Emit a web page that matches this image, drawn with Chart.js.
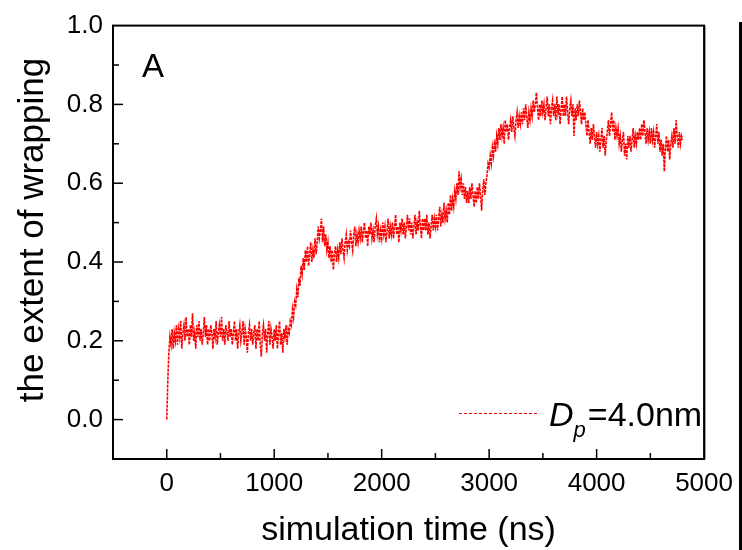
<!DOCTYPE html>
<html>
<head>
<meta charset="utf-8">
<script src="https://cdn.jsdelivr.net/npm/chart.js@4.4.1/dist/chart.umd.min.js"></script>
<style>
  html, body { margin: 0; padding: 0; background: #fff; }
  #wrapChart { display: block; }
</style>
</head>
<body>
<canvas id="wrapChart" width="742" height="550"></canvas>
<script>
// samples every 10 ns (one row = 100 ns)
const TIME_STEP = 10;
const wrapping = [
  0.00, 0.10, 0.17, 0.21, 0.19, 0.23, 0.18, 0.22, 0.20, 0.24,
  0.19, 0.23, 0.21, 0.25, 0.18, 0.22, 0.24, 0.20, 0.26, 0.21,
  0.23, 0.19, 0.24, 0.21, 0.27, 0.20, 0.22, 0.18, 0.24, 0.21,
  0.25, 0.20, 0.23, 0.19, 0.22, 0.26, 0.21, 0.24, 0.19, 0.23,
  0.20, 0.24, 0.22, 0.18, 0.23, 0.21, 0.25, 0.19, 0.22, 0.24,
  0.21, 0.26, 0.20, 0.23, 0.19, 0.24, 0.22, 0.20, 0.25, 0.21,
  0.23, 0.19, 0.22, 0.25, 0.20, 0.23, 0.18, 0.22, 0.24, 0.20,
  0.22, 0.25, 0.19, 0.23, 0.21, 0.17, 0.22, 0.24, 0.20, 0.23,
  0.19, 0.22, 0.24, 0.18, 0.23, 0.20, 0.25, 0.19, 0.16, 0.22,
  0.24, 0.20, 0.23, 0.17, 0.22, 0.25, 0.19, 0.23, 0.21, 0.18,
  0.23, 0.20, 0.24, 0.18, 0.22, 0.25, 0.19, 0.22, 0.17, 0.23,
  0.21, 0.24, 0.19, 0.23, 0.22, 0.25, 0.24, 0.28, 0.26, 0.30,
  0.29, 0.33, 0.31, 0.36, 0.34, 0.39, 0.37, 0.41, 0.38, 0.43,
  0.40, 0.44, 0.39, 0.42, 0.45, 0.40, 0.43, 0.41, 0.46, 0.42,
  0.45, 0.49, 0.46, 0.48, 0.51, 0.45, 0.49, 0.44, 0.47, 0.43,
  0.45, 0.41, 0.44, 0.40, 0.43, 0.38, 0.42, 0.44, 0.40, 0.43,
  0.41, 0.45, 0.42, 0.46, 0.43, 0.41, 0.45, 0.47, 0.43, 0.45,
  0.44, 0.48, 0.45, 0.43, 0.47, 0.49, 0.44, 0.47, 0.45, 0.48,
  0.46, 0.49, 0.45, 0.48, 0.50, 0.46, 0.48, 0.44, 0.49, 0.47,
  0.50, 0.46, 0.48, 0.45, 0.49, 0.51, 0.47, 0.49, 0.45, 0.48,
  0.46, 0.50, 0.47, 0.49, 0.45, 0.48, 0.51, 0.46, 0.49, 0.47,
  0.50, 0.46, 0.49, 0.52, 0.47, 0.49, 0.45, 0.50, 0.48, 0.51,
  0.47, 0.50, 0.46, 0.49, 0.52, 0.48, 0.51, 0.47, 0.50, 0.46,
  0.49, 0.52, 0.47, 0.50, 0.48, 0.53, 0.49, 0.46, 0.51, 0.48,
  0.51, 0.48, 0.52, 0.47, 0.50, 0.46, 0.49, 0.52, 0.48, 0.51,
  0.49, 0.52, 0.48, 0.51, 0.54, 0.49, 0.52, 0.50, 0.55, 0.51,
  0.53, 0.50, 0.55, 0.52, 0.57, 0.53, 0.56, 0.54, 0.58, 0.56,
  0.60, 0.57, 0.63, 0.59, 0.61, 0.57, 0.60, 0.56, 0.59, 0.55,
  0.58, 0.55, 0.59, 0.56, 0.60, 0.57, 0.54, 0.58, 0.55, 0.59,
  0.56, 0.60, 0.57, 0.53, 0.58, 0.61, 0.57, 0.60, 0.62, 0.65,
  0.64, 0.67, 0.65, 0.69, 0.67, 0.71, 0.68, 0.72, 0.70, 0.74,
  0.71, 0.75, 0.72, 0.74, 0.70, 0.76, 0.73, 0.75, 0.71, 0.74,
  0.76, 0.73, 0.77, 0.74, 0.72, 0.76, 0.78, 0.74, 0.77, 0.75,
  0.78, 0.75, 0.79, 0.76, 0.80, 0.77, 0.74, 0.78, 0.76, 0.79,
  0.77, 0.81, 0.78, 0.80, 0.83, 0.79, 0.76, 0.80, 0.77, 0.81,
  0.78, 0.80, 0.76, 0.79, 0.82, 0.77, 0.80, 0.75, 0.79, 0.81,
  0.77, 0.80, 0.76, 0.82, 0.78, 0.80, 0.75, 0.79, 0.82, 0.77,
  0.80, 0.77, 0.82, 0.78, 0.75, 0.79, 0.81, 0.77, 0.80, 0.72,
  0.79, 0.76, 0.80, 0.77, 0.81, 0.78, 0.75, 0.79, 0.76, 0.78,
  0.75, 0.72, 0.76, 0.73, 0.70, 0.74, 0.71, 0.75, 0.72, 0.69,
  0.73, 0.70, 0.72, 0.68, 0.71, 0.74, 0.69, 0.72, 0.67, 0.71,
  0.73, 0.76, 0.72, 0.75, 0.78, 0.73, 0.76, 0.71, 0.74, 0.72,
  0.74, 0.70, 0.72, 0.68, 0.71, 0.73, 0.67, 0.70, 0.66, 0.72,
  0.69, 0.72, 0.68, 0.71, 0.74, 0.69, 0.72, 0.70, 0.73, 0.71,
  0.74, 0.71, 0.75, 0.72, 0.76, 0.73, 0.70, 0.74, 0.71, 0.73,
  0.70, 0.74, 0.71, 0.73, 0.69, 0.72, 0.75, 0.70, 0.73, 0.68,
  0.71, 0.67, 0.70, 0.63, 0.69, 0.72, 0.68, 0.71, 0.66, 0.70,
  0.72, 0.69, 0.74, 0.70, 0.76, 0.72, 0.69, 0.73, 0.70, 0.72,
  0.71
];
const times = wrapping.map((_, i) => i * TIME_STEP);

const xTickLabels = ['0', '1000', '2000', '3000', '4000', '5000'];
const yTickLabels = ['0.0', '0.2', '0.4', '0.6', '0.8', '1.0'];
const xTitle = 'simulation time (ns)';
const yTitle = 'the extent of wrapping';
const panelLabel = 'A';
const seriesName = { main: 'D', sub: 'p', rest: '=4.0nm' };

const FONT = "'Liberation Sans', Arial, sans-serif";
Chart.defaults.font.family = FONT;
Chart.defaults.color = '#000';

const line = (ctx, x1, y1, x2, y2) => {
  ctx.beginPath();
  ctx.moveTo(x1, y1);
  ctx.lineTo(x2, y2);
  ctx.stroke();
};

const decorations = {
  id: 'decorations',
  afterDraw(chart) {
    const { ctx, chartArea: a, scales: { x, y } } = chart;
    ctx.save();

    // inward ticks, long ones where there is a label
    ctx.strokeStyle = '#000';
    ctx.lineWidth = 1.5;
    x.ticks.forEach((t) => {
      const px = x.getPixelForValue(t.value);
      if (px <= a.left + 1 || px >= a.right - 1) return;
      line(ctx, px, a.bottom, px, a.bottom - (t.label ? 10 : 6));
    });
    y.ticks.forEach((t) => {
      const py = y.getPixelForValue(t.value);
      if (py <= a.top + 1 || py >= a.bottom - 1) return;
      line(ctx, a.left, py, a.left + (t.label ? 10 : 6), py);
    });

    // frame
    ctx.lineWidth = 2;
    ctx.strokeRect(a.left, a.top, a.right - a.left, a.bottom - a.top);
    ctx.strokeStyle = '#999';
    ctx.lineWidth = 1;
    line(ctx, a.right + 1.5, a.top, a.right + 1.5, a.bottom);

    // axis titles
    ctx.fillStyle = '#000';
    ctx.font = `34px ${FONT}`;
    ctx.textAlign = 'center';
    ctx.textBaseline = 'alphabetic';
    ctx.fillText(xTitle, (a.left + a.right) / 2, 540);

    ctx.save();
    ctx.translate(43, 230);
    ctx.rotate(-Math.PI / 2);
    ctx.font = `35px ${FONT}`;
    ctx.fillText(yTitle, 0, 0);
    ctx.restore();

    // panel letter
    ctx.textAlign = 'left';
    ctx.font = `33px ${FONT}`;
    ctx.fillText(panelLabel, 142, 77);

    // legend
    ctx.strokeStyle = 'red';
    ctx.lineWidth = 1;
    ctx.setLineDash([3, 2]);
    line(ctx, 459, 413.5, 537, 413.5);
    ctx.setLineDash([]);

    let lx = 549;
    ctx.font = `italic 34px ${FONT}`;
    ctx.fillText(seriesName.main, lx, 426);
    lx += ctx.measureText(seriesName.main).width;
    ctx.font = `italic 22px ${FONT}`;
    ctx.fillText(seriesName.sub, lx, 437);
    lx += ctx.measureText(seriesName.sub).width + 2;
    ctx.font = `34px ${FONT}`;
    ctx.fillText(seriesName.rest, lx, 426);

    // stray bar at the right edge of the figure
    ctx.fillStyle = '#000';
    ctx.fillRect(739, 22, 3, 528);

    ctx.restore();
  }
};

new Chart(document.getElementById('wrapChart'), {
  type: 'line',
  data: {
    labels: times,
    datasets: [{
      data: times.map((t, i) => ({ x: t, y: wrapping[i] })),
      borderColor: 'red',
      borderWidth: 1.6,
      borderDash: [3, 1],
      pointRadius: 0,
      tension: 0,
      fill: false
    }]
  },
  options: {
    responsive: false,
    animation: false,
    layout: {
      padding: { left: 0, top: 20, right: 29, bottom: 0 }
    },
    plugins: {
      legend: { display: false },
      tooltip: { enabled: false }
    },
    scales: {
      x: {
        type: 'linear',
        min: -500,
        max: 5000,
        grid: { display: false, drawTicks: false },
        border: { display: false },
        ticks: {
          stepSize: 500,
          autoSkip: false,
          maxRotation: 0,
          padding: 9,
          font: { size: 26 },
          callback: (v) => xTickLabels.includes(String(v)) ? String(v) : ''
        },
        afterFit: (s) => { s.height = 91; }
      },
      y: {
        min: -0.1,
        max: 1.0,
        grid: { display: false, drawTicks: false },
        border: { display: false },
        ticks: {
          stepSize: 0.1,
          autoSkip: false,
          padding: 10,
          font: { size: 26 },
          callback: (v) => {
            const s = (Math.round(v * 10) / 10).toFixed(1);
            return yTickLabels.includes(s) ? s : '';
          }
        },
        afterFit: (s) => { s.width = 113; }
      }
    }
  },
  plugins: [decorations]
});
</script>
</body>
</html>
